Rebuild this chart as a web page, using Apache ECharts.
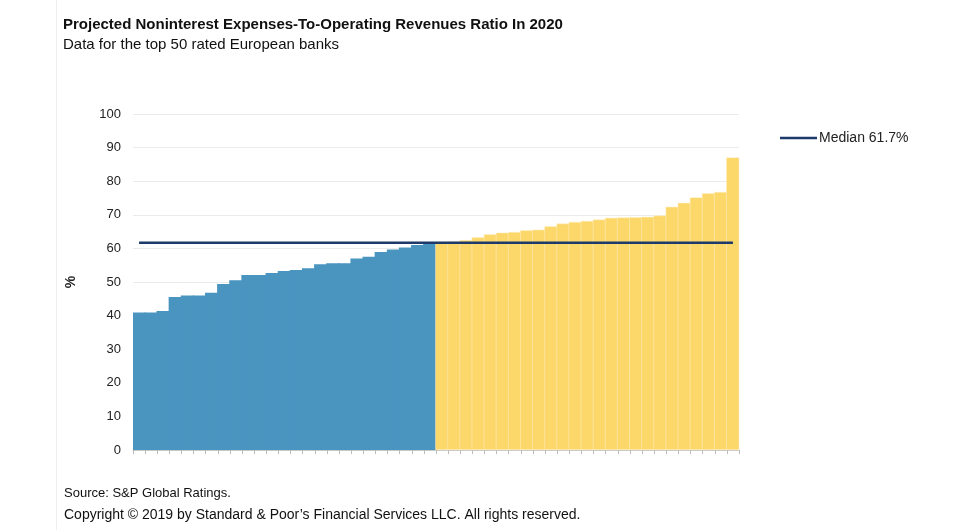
<!DOCTYPE html>
<html>
<head>
<meta charset="utf-8">
<script src="https://cdn.jsdelivr.net/npm/echarts@6/dist/echarts.min.js"></script>
<style>
html,body{margin:0;padding:0;background:#fff;}
#main{width:956px;height:530px;}
</style>
</head>
<body>
<div id="main"></div>
<script>
var titleText = 'Projected Noninterest Expenses-To-Operating Revenues Ratio In 2020';
var subtitleText = 'Data for the top 50 rated European banks';
var sourceText = 'Source: S&P Global Ratings.';
var copyrightText = 'Copyright \u00a9 2019 by Standard & Poor\u2019s Financial Services LLC. All rights reserved.';
var yTicks = [0, 10, 20, 30, 40, 50, 60, 70, 80, 90, 100];
var belowMedian = [40.9, 40.9, 41.4, 45.5, 46.0, 46.0, 46.8, 49.4, 50.5, 52.1, 52.1, 52.7, 53.3, 53.6, 54.1, 55.3, 55.6, 55.6, 57.0, 57.5, 58.9, 59.7, 60.3, 61.0, 61.4];
var aboveMedian = [62.0, 62.1, 62.5, 63.3, 64.2, 64.7, 64.9, 65.4, 65.6, 66.6, 67.4, 67.9, 68.2, 68.6, 69.1, 69.2, 69.3, 69.4, 69.8, 72.4, 73.6, 75.2, 76.4, 76.8, 87.1];
var medianValue = 61.7;
var medianName = 'Median 61.7%';

var categories = [];
for (var i = 0; i < belowMedian.length + aboveMedian.length; i++) categories.push('Bank ' + (i + 1));
var blueData = belowMedian.concat(aboveMedian.map(function(){ return '-'; }));
var yellowData = belowMedian.map(function(){ return '-'; }).concat(aboveMedian);
var medianData = categories.map(function(){ return medianValue; });

var chart = echarts.init(document.getElementById('main'), null, {renderer: 'canvas'});
var font = '"Liberation Sans", Arial, sans-serif';
chart.setOption({
  animation: false,
  backgroundColor: '#fff',
  textStyle: {fontFamily: font},
  title: [
    {text: titleText, left: 58, top: 12, textStyle: {fontFamily: font, fontSize: 15, fontWeight: 'bold', color: '#111'}},
    {text: subtitleText, left: 58, top: 32, textStyle: {fontFamily: font, fontSize: 15, fontWeight: 'normal', color: '#111'}},
    {text: sourceText, left: 59, top: 482, textStyle: {fontFamily: font, fontSize: 13, fontWeight: 'normal', color: '#111'}},
    {text: copyrightText, left: 59, top: 503, textStyle: {fontFamily: font, fontSize: 14, fontWeight: 'normal', color: '#111'}}
  ],
  graphic: [{type: 'rect', shape: {x: 56, y: 0, width: 1, height: 530}, style: {fill: '#eeeeee'}, silent: true}],
  legend: {
    data: [{name: medianName, icon: 'rect'}],
    left: 775, top: 126, itemWidth: 37, itemHeight: 2.5, itemGap: 4,
    textStyle: {fontFamily: font, fontSize: 14, color: '#222', padding: [0, 0, 0, -3]}
  },
  grid: {left: 133, right: 217, top: 114, bottom: 80, containLabel: false},
  xAxis: {
    type: 'category', data: categories, boundaryGap: true,
    axisLine: {show: true, lineStyle: {color: '#c8c8c8', width: 1}},
    axisTick: {show: true, inside: false, length: 4, lineStyle: {color: '#bbbbbb'}, interval: 0},
    axisLabel: {show: false},
    splitLine: {show: false},
    splitArea: {show: false}
  },
  yAxis: {
    type: 'value', min: 0, max: 100, interval: 10,
    name: '%', nameLocation: 'middle', nameRotate: 90, nameGap: 55,
    nameTextStyle: {fontFamily: font, fontSize: 14, fontWeight: 'bold', color: '#222'},
    axisLine: {show: false}, axisTick: {show: false},
    axisLabel: {fontFamily: font, fontSize: 13, color: '#222', margin: 12},
    splitLine: {show: true, lineStyle: {color: '#ebebeb', width: 1.2}}
  },
  series: [
    {name: 'Below', type: 'bar', stack: 'a', data: blueData, barWidth: '112%', barGap: '-100%',
     itemStyle: {color: '#4a95c0', borderWidth: 0}},
    {name: 'Above', type: 'bar', stack: 'a', data: yellowData, barWidth: '100%', barGap: '-100%',
     itemStyle: {color: '#fcd76a', borderColor: 'rgba(255,240,200,0.9)', borderWidth: 0.6}},
    {name: medianName, type: 'line', data: medianData, symbol: 'none', z: 5,
     lineStyle: {color: '#1d3a6b', width: 2.5}, itemStyle: {color: '#1d3a6b'}}
  ]
});
</script>
</body>
</html>
